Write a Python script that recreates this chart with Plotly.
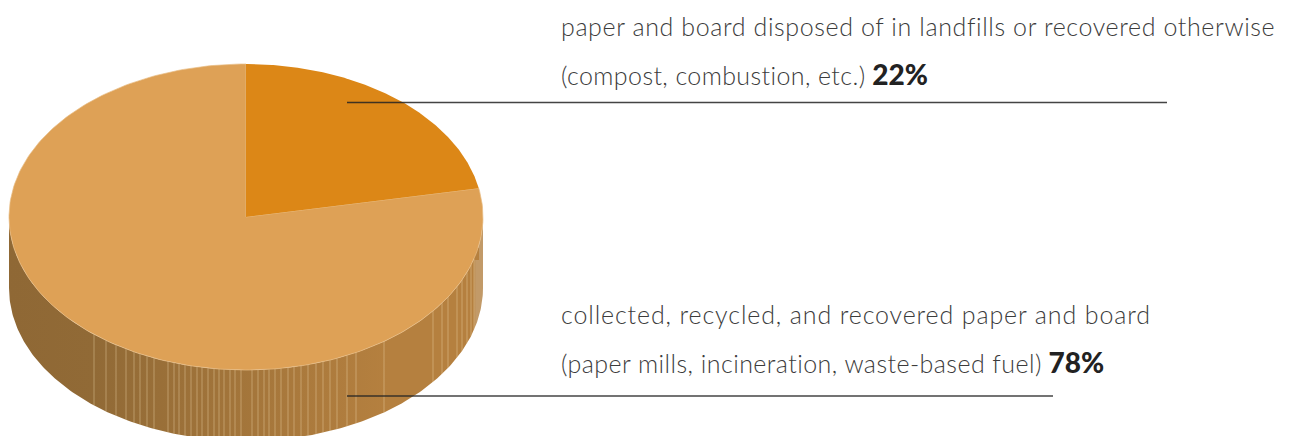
import numpy as np
import plotly.graph_objects as go

# Data
labels = ["paper and board disposed of in landfills or recovered otherwise<br>(compost, combustion, etc.)",
          "collected, recycled, and recovered paper and board<br>(paper mills, incineration, waste-based fuel)"]
shares = [22, 78]

# Style / layout constants (pixel space of the page)
W, H = 1296, 436
CX, CY, RX, RY, DEPTH = 246, 217, 237, 153, 71
DARK, LIGHT = "#dc8717", "#dea156"
SEAM_X = [94,106,116,126,134,140,147,154,168,174,179,185,191,197,202,208,214,219,224,230,235,241,
          252,258,264,269,275,281,288,294,301,308,316,323,330,337,347,356,384,433,442,448,457,462,467,471,474]
TEXT = "#3c3c3c"
FONT = "Lato"
SPACING = [[0.61, 0.39], [0.87, 0.44]]


def arc(a0, a1, n=240, dy=0):
    """Ellipse points; angle in degrees clockwise from 12 o'clock."""
    t = np.radians(np.linspace(a0, a1, n))
    return CX + RX * np.sin(t), CY - RY * np.cos(t) + dy


fig = go.Figure()

# side wall: lower half of rim, extruded
xt, yt = arc(90, 270)
xb, yb = arc(270, 90, dy=DEPTH)
fig.add_trace(go.Scatter(
    x=np.r_[xt, xb], y=np.r_[yt, yb], mode="lines", line=dict(width=0), fill="toself",
    fillgradient=dict(type="horizontal", start=9, stop=483,
                      colorscale=[[0, "#8f6835"], [0.18, "#916a36"], [0.8, "#b5803f"], [0.98, "#b5803f"], [0.985, "#c29a68"], [1, "#c29a68"]]),
    hoverinfo="skip"))

# small darker facet just under the rim at the far right
fig.add_trace(go.Scatter(x=[474, 479, 479, 474, 474], y=[248, 248, 260, 260, 248], mode="lines", fill="toself",
                         fillcolor="#b5803f", line=dict(width=0), hoverinfo="skip"))

# facet seams
sx, sy = [], []
for x in SEAM_X:
    s = (x - CX) / RX
    y0 = CY + RY * np.sqrt(1 - s * s)
    sx += [x, x, None]
    sy += [y0, y0 + DEPTH, None]
fig.add_trace(go.Scatter(x=sx, y=sy, mode="lines", line=dict(color="rgba(240,215,175,0.42)", width=1), hoverinfo="skip"))

# top: wedges computed from shares
split = 360 * shares[0] / sum(shares)
xa, ya = arc(split, 360)
fig.add_trace(go.Scatter(x=np.r_[CX, xa, CX], y=np.r_[CY, ya, CY], mode="lines", fill="toself", fillcolor=LIGHT,
                         line=dict(color="#e8bd85", width=0.7), hoverinfo="skip"))
xa, ya = arc(0, split)
fig.add_trace(go.Scatter(x=np.r_[CX, xa, CX], y=np.r_[CY, ya, CY], mode="lines", fill="toself", fillcolor=DARK,
                         line=dict(width=0), hoverinfo="skip"))

# leader rules
fig.add_trace(go.Scatter(x=[347, 1167], y=[102.5, 102.5], mode="lines", line=dict(color="rgba(35,35,35,0.85)", width=1.3), hoverinfo="skip"))
fig.add_trace(go.Scatter(x=[347, 1053], y=[396, 396], mode="lines", line=dict(color="rgba(35,35,35,0.85)", width=1.3), hoverinfo="skip"))


def txt(x, y, s):
    fig.add_annotation(x=x, y=y, xref="x", yref="y", text=s, showarrow=False, xanchor="left", yanchor="middle",
                       align="left", font=dict(family=FONT, size=25, color=TEXT, weight=300))


def spaced(s, ls):
    return f'<span style="letter-spacing:{ls}px">{s}</span>'


for (lab, sh, y, ls) in zip(labels, shares, [26, 314], SPACING):
    l1, l2 = lab.split("<br>")
    txt(559, y, spaced(l1, ls[0]))
    txt(559, y + 48, spaced(l2, ls[1]) + f' <span style="font-weight:900;fill:#222;font-size:28px">{sh}%</span>')

fig.update_layout(width=W, height=H, margin=dict(l=0, r=0, t=0, b=0), paper_bgcolor="white", plot_bgcolor="white",
                  showlegend=False,
                  xaxis=dict(range=[0, W], visible=False, fixedrange=True),
                  yaxis=dict(range=[H, 0], visible=False, fixedrange=True))
fig.write_html("out.html", config={"displayModeBar": False},
               post_script="document.body.style.margin='0';document.documentElement.style.overflow='hidden';")
